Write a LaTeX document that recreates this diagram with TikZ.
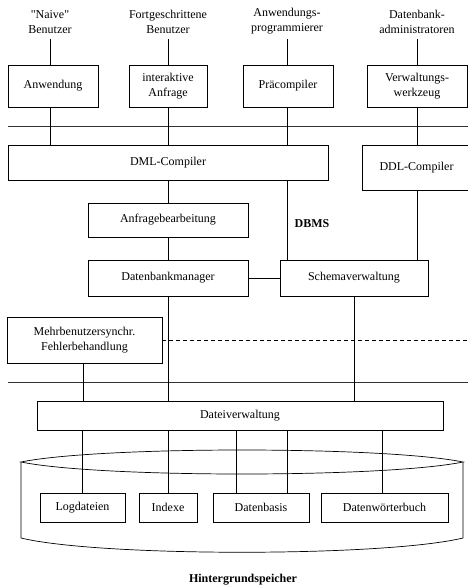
\documentclass[tikz,border=0pt]{standalone}
\usepackage{fontspec}
\setmainfont{Liberation Serif}[Ligatures=TeXOff]
\begin{document}
\begin{tikzpicture}[x=1pt,y=-1pt,
  every node/.style={font=\fontsize{12}{15}\selectfont},
  box/.style={draw, line width=0.7pt, inner sep=0pt, align=center},
  who/.style={inner sep=0pt, anchor=south, align=center},
  wire/.style={line width=0.7pt},
  bus/.style={line width=0.9pt, draw=black!80},
  dashwire/.style={line width=0.7pt, dash pattern=on 4pt off 3pt}]
\useasboundingbox (0,0) rectangle (468,587);

% user groups
\node[who] (naive) at (50,34)  {"Naive"\\Benutzer};
\node[who] (fort)  at (168,34) {Fortgeschrittene\\Benutzer};
\node[who] (prog)  at (287,34) {Anwendungs-\\programmierer};
\node[who] (dba)   at (417,34) {Datenbank-\\administratoren};

% front-end tools
\node[box, minimum width=90, minimum height=42]  (anw)   at (53,86)  {Anwendung};
\node[box, minimum width=78, minimum height=42]  (inter) at (168,86) {interaktive\\Anfrage};
\node[box, minimum width=90, minimum height=42]  (prae)  at (288,86) {Präcompiler};
\node[box, minimum width=100, minimum height=42] (verw)  at (417,86) {Verwaltungs-\\werkzeug};

% compilers
\node[box, minimum width=320, minimum height=35] (dml) at (168,162.5) {DML-Compiler};
\node[box, minimum width=109, minimum height=45] (ddl) at (416.5,167.5) {DDL-Compiler};

% DBMS core
\node[box, minimum width=160, minimum height=34] (anfr) at (168,220) {Anfragebearbeitung};
\node[font=\fontsize{12}{15}\selectfont\bfseries] (dbms) at (312,224) {DBMS};
\node[box, minimum width=160, minimum height=36] (dbm) at (168,278) {Datenbankmanager};
\node[box, minimum width=148, minimum height=36] (schema) at (354,278) {Schemaverwaltung};
\node[box, minimum width=155, minimum height=46] (mehr) at (84.5,340) {Mehrbenutzersynchr.\\Fehlerbehandlung};
\node[box, minimum width=406, minimum height=29] (datei) at (240,415.5) {Dateiverwaltung};

% background storage (cylinder)
\draw[wire] (21,462) .. controls (100,446) and (384,446) .. (463,462)
            .. controls (384,478) and (100,478) .. (21,462) -- cycle;
\draw[wire] (21,462) -- (21,538) .. controls (100,557) and (384,557) .. (463,538) -- (463,462);

\node[box, minimum width=85, minimum height=29]  (log)   at (82.5,507.5) {Logdateien};
\node[box, minimum width=58, minimum height=29]  (idx)   at (168,507.5)  {Indexe};
\node[box, minimum width=96, minimum height=29]  (basis) at (261,507.5)  {Datenbasis};
\node[box, minimum width=127, minimum height=29] (woert) at (384.5,507.5) {Datenwörterbuch};
\node[font=\fontsize{12}{15}\selectfont\bfseries] (hg) at (243,580) {Hintergrundspeicher};

% layer separators
\coordinate (busAL) at (8,126);  \coordinate (busAR) at (470,126);
\coordinate (busBL) at (8,382);  \coordinate (busBR) at (470,382);
\coordinate (dashR) at (470,340);
\draw[bus] (busAL) -- (busAR);
\draw[bus] (busBL) -- (busBR);
\draw[dashwire] (mehr.east) -- (dashR);

% users to tools
\draw[wire] ([yshift=-5pt]naive.south) -- (naive.south |- anw.north);
\draw[wire] ([yshift=-5pt]fort.south)  -- (fort.south |- inter.north);
\draw[wire] ([yshift=-5pt]prog.south)  -- (prog.south |- prae.north);
\draw[wire] ([yshift=-5pt]dba.south)   -- (dba.south |- verw.north);

% tools to compilers
\draw[wire] (anw.south -| naive)  -- (dml.north -| naive);
\draw[wire] (inter.south -| fort) -- (dml.north -| fort);
\draw[wire] (prae.south -| prog)  -- (dml.north -| prog);
\draw[wire] (verw.south -| dba)   -- (ddl.north -| dba);

% compilers into the core
\draw[wire] (dml.south -| fort) -- (anfr.north -| fort);
\draw[wire] (anfr.south -| fort) -- (dbm.north -| fort);
\draw[wire] (dml.south -| prog) -- (schema.north -| prog);
\draw[wire] (ddl.south -| dba)  -- (schema.north -| dba);
\draw[wire] (dbm.east) -- (schema.west);

% core to file management
\draw[wire] (dbm.south -| fort) -- (datei.north -| fort);
\draw[wire] (mehr.south -| 83,0) -- (datei.north -| 83,0);
\draw[wire] (schema.south) -- (datei.north -| schema.south);

% file management to storage
\draw[wire] (datei.south -| 82,0)  -- (log.north -| 82,0);
\draw[wire] (datei.south -| fort)  -- (idx.north -| fort);
\draw[wire] (datei.south -| 236,0) -- (basis.north -| 236,0);
\draw[wire] (datei.south -| prog)  -- (basis.north -| prog);
\draw[wire] (datei.south -| 382,0) -- (woert.north -| 382,0);
\end{tikzpicture}
\end{document}
